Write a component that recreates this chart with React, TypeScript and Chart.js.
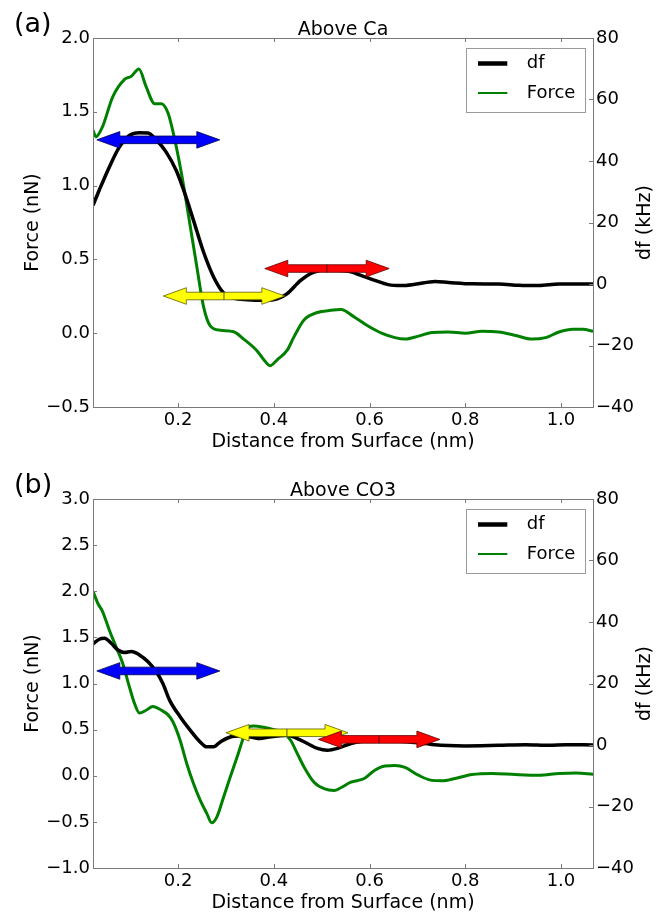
import React, { useEffect, useRef } from 'react';
import { Chart, registerables } from 'chart.js';

Chart.register(...registerables);

const FONT = '"DejaVu Sans", "Liberation Sans", sans-serif';

// ---------- shared ----------
const xTicks = [0.2, 0.4, 0.6, 0.8, 1.0];
const dfTicks = [-40, -20, 0, 20, 40, 60, 80];
const arrowColors = ['#0000ff', '#ffff00', '#ff0000'];
const arrowEdges = ['#00004d', '#5c5c00', '#5c0000'];

// ---------- panel (a): Above Ca ----------
const forceDistA = [0.022, 0.028, 0.042, 0.063, 0.088, 0.102, 0.118, 0.133, 0.151, 0.165, 0.179, 0.193, 0.207, 0.221, 0.239, 0.253, 0.267, 0.288, 0.316, 0.337, 0.365, 0.379, 0.392, 0.407, 0.428, 0.442, 0.463, 0.491, 0.519, 0.540, 0.568, 0.596, 0.625, 0.653, 0.674, 0.702, 0.730, 0.765, 0.800, 0.835, 0.870, 0.905, 0.940, 0.968, 0.996, 1.025, 1.046, 1.067];
const forceA = [1.375, 1.33, 1.40, 1.60, 1.72, 1.74, 1.79, 1.67, 1.555, 1.555, 1.49, 1.31, 1.08, 0.81, 0.45, 0.18, 0.05, 0.02, 0.01, -0.04, -0.12, -0.18, -0.22, -0.18, -0.115, -0.025, 0.09, 0.14, 0.155, 0.16, 0.11, 0.05, 0.0, -0.03, -0.04, -0.02, 0.004, 0.008, 0.0, 0.013, 0.008, -0.015, -0.04, -0.03, 0.008, 0.026, 0.026, 0.013];
const dfDistA = [0.022, 0.035, 0.056, 0.077, 0.098, 0.119, 0.137, 0.154, 0.175, 0.196, 0.214, 0.232, 0.253, 0.274, 0.295, 0.316, 0.344, 0.379, 0.407, 0.428, 0.456, 0.484, 0.512, 0.540, 0.561, 0.582, 0.611, 0.639, 0.667, 0.695, 0.737, 0.765, 0.814, 0.870, 0.912, 0.954, 0.996, 1.067];
const dfA = [25.6, 30.5, 38.0, 44.5, 48.3, 49.2, 49.1, 46.9, 42.9, 36.9, 29.4, 20.7, 10.4, 2.3, -2.9, -4.6, -5.1, -5.3, -4.8, -3.1, 1.2, 3.9, 4.6, 4.4, 4.0, 2.8, 1.2, -0.2, -0.5, -0.1, 0.8, 0.5, 0.05, 0.0, -0.4, -0.5, 0.0, 0.0];
const forceTicksA = [-0.5, 0.0, 0.5, 1.0, 1.5, 2.0];
const arrowStartA = [0.030, 0.169, 0.381];
const arrowEndA = [0.287, 0.423, 0.641];
const arrowForceA = [1.31, 0.252, 0.438];

// ---------- panel (b): Above CO3 ----------
const forceDistB = [0.022, 0.032, 0.042, 0.056, 0.070, 0.084, 0.098, 0.109, 0.119, 0.133, 0.147, 0.165, 0.179, 0.189, 0.204, 0.218, 0.232, 0.246, 0.260, 0.270, 0.281, 0.295, 0.309, 0.323, 0.337, 0.347, 0.358, 0.379, 0.400, 0.421, 0.435, 0.449, 0.463, 0.484, 0.505, 0.526, 0.540, 0.561, 0.589, 0.611, 0.632, 0.653, 0.674, 0.702, 0.730, 0.751, 0.779, 0.814, 0.856, 0.905, 0.954, 0.996, 1.032, 1.067];
const forceB = [2.0, 1.87, 1.78, 1.58, 1.40, 1.22, 0.965, 0.78, 0.68, 0.71, 0.75, 0.71, 0.66, 0.585, 0.385, 0.13, -0.085, -0.265, -0.41, -0.51, -0.445, -0.23, -0.01, 0.2, 0.42, 0.53, 0.54, 0.525, 0.50, 0.46, 0.385, 0.24, 0.096, -0.07, -0.14, -0.16, -0.13, -0.07, -0.03, 0.06, 0.105, 0.11, 0.09, 0.006, -0.05, -0.055, -0.03, 0.013, 0.025, 0.013, 0.006, 0.025, 0.03, 0.017];
const dfDistB = [0.022, 0.035, 0.046, 0.060, 0.074, 0.088, 0.102, 0.119, 0.137, 0.154, 0.168, 0.182, 0.204, 0.225, 0.246, 0.260, 0.274, 0.288, 0.309, 0.330, 0.351, 0.372, 0.386, 0.407, 0.428, 0.449, 0.470, 0.491, 0.512, 0.533, 0.561, 0.589, 0.618, 0.660, 0.695, 0.730, 0.765, 0.800, 0.870, 0.926, 0.975, 1.010, 1.067];
const dfB = [32.9, 34.4, 34.7, 33.1, 30.9, 30.1, 30.4, 29.3, 27.1, 23.9, 20.0, 14.6, 9.2, 4.85, 1.0, -0.6, -0.6, 1.0, 2.6, 2.9, 2.6, 2.1, 2.5, 2.9, 3.2, 2.1, 0.5, -1.1, -1.7, -1.1, 0.5, 1.3, 1.5, 1.3, 0.8, 0.2, -0.2, -0.3, -0.1, 0.1, -0.1, 0.1, 0.0];
const forceTicksB = [-1.0, -0.5, 0.0, 0.5, 1.0, 1.5, 2.0, 2.5, 3.0];
const arrowStartB = [0.030, 0.300, 0.493];
const arrowEndB = [0.287, 0.555, 0.747];
const arrowForceB = [1.136, 0.466, 0.394];

const minus = (s: string) => s.replace('-', '\u2212');

function halfArrow(ctx: CanvasRenderingContext2D, cx: number, tip: number, y: number, fill: string, edge: string) {
  const dir = Math.sign(tip - cx);
  const hl = 23, hw = 8.3, sw = 3.8;
  const base = tip - dir * hl;
  ctx.beginPath();
  ctx.moveTo(cx, y - sw);
  ctx.lineTo(base, y - sw);
  ctx.lineTo(base, y - hw);
  ctx.lineTo(tip, y);
  ctx.lineTo(base, y + hw);
  ctx.lineTo(base, y + sw);
  ctx.lineTo(cx, y + sw);
  ctx.closePath();
  ctx.fillStyle = fill;
  ctx.fill();
  ctx.strokeStyle = edge;
  ctx.lineWidth = 0.8;
  ctx.stroke();
}

type PanelProps = {
  label: string;
  title: string;
  height: number;
  top: number;
  bottom: number;
  forceDist: number[];
  force: number[];
  dfDist: number[];
  df: number[];
  forceTicks: number[];
  arrowStart: number[];
  arrowEnd: number[];
  arrowForce: number[];
};

function Panel(p: PanelProps) {
  const ref = useRef<HTMLCanvasElement | null>(null);
  useEffect(() => {
    const canvas = ref.current;
    if (!canvas) return;
    const fMin = p.forceTicks[0];
    const fMax = p.forceTicks[p.forceTicks.length - 1];
    const gray = '#7a7a7a';

    const overlay = {
      id: 'overlay',
      afterDatasetsDraw(chart: any) {
        const { ctx, scales } = chart;
        ctx.save();
        for (let i = 0; i < p.arrowStart.length; i++) {
          const x0 = scales.x.getPixelForValue(p.arrowStart[i]);
          const x1 = scales.x.getPixelForValue(p.arrowEnd[i]);
          const y = scales.yL.getPixelForValue(p.arrowForce[i]);
          const cx = (x0 + x1) / 2;
          halfArrow(ctx, cx, x0, y, arrowColors[i], arrowEdges[i]);
          halfArrow(ctx, cx, x1, y, arrowColors[i], arrowEdges[i]);
        }
        ctx.restore();
      },
      afterDraw(chart: any) {
        const { ctx, chartArea: a, scales } = chart;
        ctx.save();
        // frame
        ctx.strokeStyle = gray;
        ctx.lineWidth = 1;
        ctx.strokeRect(a.left + 0.5, a.top + 0.5, a.right - a.left, a.bottom - a.top);
        // inward ticks
        const tl = 4;
        ctx.beginPath();
        for (const v of xTicks) {
          const x = Math.round(scales.x.getPixelForValue(v)) + 0.5;
          ctx.moveTo(x, a.bottom); ctx.lineTo(x, a.bottom - tl);
          ctx.moveTo(x, a.top); ctx.lineTo(x, a.top + tl);
        }
        for (const v of p.forceTicks) {
          const y = Math.round(scales.yL.getPixelForValue(v)) + 0.5;
          ctx.moveTo(a.left, y); ctx.lineTo(a.left + tl, y);
        }
        for (const v of dfTicks) {
          const y = Math.round(scales.yR.getPixelForValue(v)) + 0.5;
          ctx.moveTo(a.right, y); ctx.lineTo(a.right - tl, y);
        }
        ctx.stroke();

        // legend
        const bw = 118.6, bh = 63.6;
        const bx = a.right - 8.7 - bw;
        const by = a.top + 10;
        ctx.fillStyle = '#ffffff';
        ctx.fillRect(bx, by, bw, bh);
        ctx.strokeStyle = '#9a9a9a';
        ctx.lineWidth = 1;
        ctx.strokeRect(Math.round(bx) + 0.5, Math.round(by) + 0.5, Math.round(bw), Math.round(bh));
        ctx.lineCap = 'butt';
        ctx.strokeStyle = '#000000';
        ctx.lineWidth = 4.5;
        ctx.beginPath(); ctx.moveTo(bx + 12.3, by + 15.5); ctx.lineTo(bx + 41.6, by + 15.5); ctx.stroke();
        ctx.strokeStyle = '#008000';
        ctx.lineWidth = 2;
        ctx.beginPath(); ctx.moveTo(bx + 12.3, by + 45); ctx.lineTo(bx + 41.6, by + 45); ctx.stroke();
        ctx.fillStyle = '#000000';
        ctx.font = `18px ${FONT}`;
        ctx.textAlign = 'left';
        ctx.textBaseline = 'middle';
        ctx.fillText('df', bx + 61, by + 15.5);
        ctx.fillText('Force', bx + 61, by + 45);

        // titles
        const cx = (a.left + a.right) / 2;
        const cy = (a.top + a.bottom) / 2;
        ctx.textBaseline = 'alphabetic';
        ctx.textAlign = 'center';
        ctx.font = `19px ${FONT}`;
        ctx.fillText(p.title, cx, a.top - 3);
        ctx.fillText('Distance from Surface (nm)', cx, a.bottom + 40);
        ctx.textAlign = 'left';
        ctx.font = `27px ${FONT}`;
        ctx.fillText(p.label, 14, a.top - 6);
        // rotated axis titles
        ctx.font = `19px ${FONT}`;
        ctx.textAlign = 'center';
        ctx.textBaseline = 'middle';
        ctx.save();
        ctx.translate(33, cy);
        ctx.rotate(-Math.PI / 2);
        ctx.fillText('Force (nN)', 0, 0);
        ctx.restore();
        ctx.save();
        ctx.translate(645, cy);
        ctx.rotate(-Math.PI / 2);
        ctx.fillText('df (kHz)', 0, 0);
        ctx.restore();
        ctx.restore();
      },
    };

    const chart = new Chart(canvas, {
      type: 'line',
      data: {
        datasets: [
          {
            label: 'df',
            data: p.dfDist.map((x, i) => ({ x, y: p.df[i] })),
            yAxisID: 'yR',
            borderColor: '#000000',
            borderWidth: 3.5,
            pointRadius: 0,
            fill: false,
            cubicInterpolationMode: 'monotone',
          },
          {
            label: 'Force',
            data: p.forceDist.map((x, i) => ({ x, y: p.force[i] })),
            yAxisID: 'yL',
            borderColor: '#008000',
            borderWidth: 3,
            pointRadius: 0,
            fill: false,
            cubicInterpolationMode: 'monotone',
          },
        ],
      },
      options: {
        animation: false,
        responsive: false,
        maintainAspectRatio: false,
        layout: { padding: { top: p.top, left: 0, right: 0, bottom: 0 } },
        plugins: { legend: { display: false }, tooltip: { enabled: false }, title: { display: false } },
        scales: {
          x: {
            type: 'linear',
            position: 'bottom',
            min: 0.022,
            max: 1.067,
            grid: { display: false, drawTicks: false },
            border: { display: false },
            afterBuildTicks: (s: any) => { s.ticks = xTicks.map((value) => ({ value })); },
            afterFit: (s: any) => { s.height = p.height - p.bottom; },
            ticks: {
              padding: 3,
              color: '#000000',
              font: { family: FONT, size: 18 },
              maxRotation: 0,
              callback: (v: any) => Number(v).toFixed(1),
            },
          },
          yL: {
            type: 'linear',
            position: 'left',
            min: fMin,
            max: fMax,
            grid: { display: false, drawTicks: false },
            border: { display: false },
            afterBuildTicks: (s: any) => { s.ticks = p.forceTicks.map((value) => ({ value })); },
            afterFit: (s: any) => { s.width = 93; },
            ticks: {
              padding: 3,
              color: '#000000',
              font: { family: FONT, size: 18 },
              callback: (v: any) => minus(Number(v).toFixed(1)),
            },
          },
          yR: {
            type: 'linear',
            position: 'right',
            min: -40,
            max: 80,
            grid: { display: false, drawTicks: false },
            border: { display: false },
            afterBuildTicks: (s: any) => { s.ticks = dfTicks.map((value) => ({ value })); },
            afterFit: (s: any) => { s.width = 74; },
            ticks: {
              padding: 3,
              color: '#000000',
              font: { family: FONT, size: 18 },
              callback: (v: any) => minus(String(Math.round(Number(v)))),
            },
          },
        },
      },
      plugins: [overlay],
    } as any);
    return () => chart.destroy();
  }, []);
  return <canvas ref={ref} width={667} height={p.height} style={{ display: 'block', width: 667, height: p.height }} />;
}

export default function App() {
  useEffect(() => {
    document.body.style.margin = '0';
  }, []);
  return (
    <div style={{ width: 667, background: '#ffffff' }}>
      <Panel
        label="(a)"
        title="Above Ca"
        height={450}
        top={38}
        bottom={407}
        forceDist={forceDistA}
        force={forceA}
        dfDist={dfDistA}
        df={dfA}
        forceTicks={forceTicksA}
        arrowStart={arrowStartA}
        arrowEnd={arrowEndA}
        arrowForce={arrowForceA}
      />
      <Panel
        label="(b)"
        title="Above CO3"
        height={463}
        top={49}
        bottom={418}
        forceDist={forceDistB}
        force={forceB}
        dfDist={dfDistB}
        df={dfB}
        forceTicks={forceTicksB}
        arrowStart={arrowStartB}
        arrowEnd={arrowEndB}
        arrowForce={arrowForceB}
      />
    </div>
  );
}
